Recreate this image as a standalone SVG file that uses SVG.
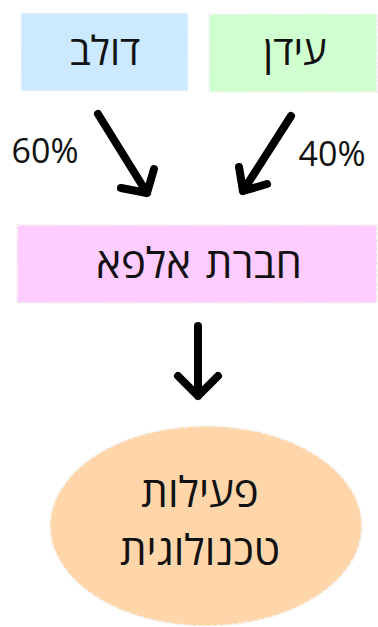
<svg xmlns="http://www.w3.org/2000/svg" width="378" height="627" viewBox="0 0 378 627">
<style>
.box{stroke:#f4f4f4;stroke-width:2;stroke-dasharray:4 3}
.t{font-family:"Open Sans","Noto Sans",sans-serif;font-size:40px;fill:#111;text-anchor:middle;direction:rtl}
.b{font-size:42px}
.p{font-family:"Open Sans","Noto Sans",sans-serif;font-size:34px;fill:#111;text-anchor:middle}
.c{fill:none;stroke:#000;stroke-width:8;stroke-linecap:round;stroke-linejoin:round}
</style>
<rect width="378" height="627" fill="#fff"/>
<g id="dolev"><rect class="box" x="21" y="13" width="167" height="78" fill="#cceaff"/><text class="t" x="105" y="65">דולב</text></g>
<g id="idan"><rect class="box" x="209" y="14" width="168" height="78" fill="#d0ffd0"/><text class="t" x="295" y="65">עידן</text></g>
<g id="alpha"><rect class="box" x="17" y="225" width="360" height="78" fill="#ffccff"/><text class="t b" x="199" y="278" word-spacing="4">חברת אלפא</text></g>
<g id="tech"><ellipse class="box" cx="206" cy="526" rx="156" ry="100" fill="#ffd6aa"/><text class="t b" x="200" y="507">פעילות</text><text class="t b" x="200" y="565">טכנולוגית</text></g>
<g id="connectors">
<path class="c" d="M98 114 L147 193 M121 188 L147 193 L154 169"/>
<path class="c" d="M291 116 L243 191 M239 167 L243 191 L267 184"/>
<path class="c" d="M198 326 L198 396 M178 376 L198 396 L218 376"/>
<text class="p" x="45" y="163">60%</text>
<text class="p" x="332" y="166">40%</text>
</g>
</svg>
